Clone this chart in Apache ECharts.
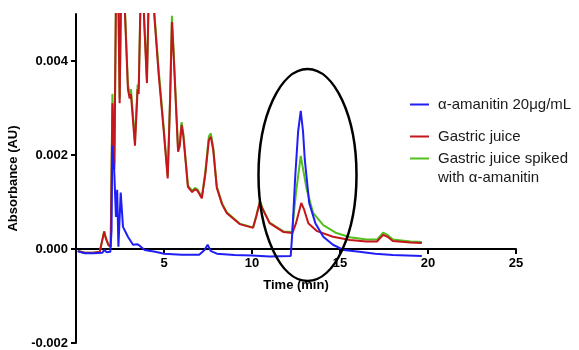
<!DOCTYPE html>
<html>
<head>
<meta charset="utf-8">
<script src="https://cdn.jsdelivr.net/npm/echarts@6/dist/echarts.min.js"></script>
<style>
  html, body { margin: 0; padding: 0; background: #fff; }
  #chart { width: 579px; height: 350px; }
</style>
</head>
<body>
<div id="chart"></div>
<script>
// time (min), absorbance (AU)
const amanitin = [
  [0.1, -0.00005], [0.5, -0.00009], [1.0, -0.00009], [1.5, -0.00008], [1.6, -0.00002],
  [1.75, -0.00007], [1.95, -0.00006], [2.02, 0.0004], [2.06, 0.0022], [2.17, 0.00168],
  [2.27, 0.00068], [2.34, 0.00126], [2.41, 0.00005], [2.54, 0.0012], [2.67, 0.00047],
  [2.95, 0.00026], [3.24, 0.00009], [3.5, 0.0001], [3.65, 0.00006], [3.9, -0.00002],
  [4.5, -0.00006], [5.0, -0.0001], [6.0, -0.00012], [7.0, -0.00012], [7.3, -0.00002],
  [7.48, 0.00009], [7.65, -0.00004], [8.0, -0.0001], [9.0, -0.00013], [10.0, -0.00014],
  [11.0, -0.00016], [12.2, -0.00015], [12.3, 0.0004], [12.45, 0.0015], [12.62, 0.0025],
  [12.77, 0.00294], [12.9, 0.0025], [13.0, 0.0019], [13.25, 0.00098], [13.6, 0.00055],
  [14.05, 0.00026], [14.6, 0.00009], [15.2, -0.00002], [16.1, -0.00006], [17.0, -0.0001],
  [18.0, -0.00013], [19.65, -0.00015]
]

const gastric = [
  [0.1, -0.00004], [0.5, -0.00008], [1.0, -0.00008], [1.35, -0.00006], [1.5, 0.0002],
  [1.6, 0.00037], [1.7, 0.00022], [1.85, 0.00008], [1.97, 0.00005], [2.07, 0.0031],
  [2.18, 0.0017], [2.3, 0.0065], [2.4, 0.0055], [2.48, 0.0031], [2.58, 0.006],
  [2.7, 0.0058], [2.95, 0.0034], [3.05, 0.0032], [3.12, 0.0033], [3.35, 0.0022],
  [3.5, 0.0034], [3.56, 0.0033], [3.72, 0.0062], [3.84, 0.0052], [3.88, 0.00477],
  [4.03, 0.00353], [4.2, 0.0066], [4.35, 0.0066], [4.45, 0.00496], [4.7, 0.0037],
  [4.98, 0.00253], [5.21, 0.0015], [5.35, 0.0032], [5.45, 0.00483], [5.55, 0.0041],
  [5.8, 0.00207], [5.9, 0.0022], [6.0, 0.00264], [6.1, 0.0024], [6.36, 0.00132],
  [6.6, 0.00121], [6.76, 0.00127], [6.9, 0.00124], [7.15, 0.00108], [7.35, 0.0016],
  [7.55, 0.00232], [7.66, 0.00239], [7.8, 0.0021], [8.0, 0.0013], [8.3, 0.00095],
  [8.57, 0.00076], [9.3, 0.00053], [10.06, 0.00045], [10.25, 0.0007], [10.45, 0.001],
  [10.6, 0.00085], [11.0, 0.00055], [11.8, 0.00036], [12.3, 0.00034], [12.5, 0.00055],
  [12.8, 0.00098], [12.95, 0.00085], [13.2, 0.00055], [13.7, 0.00038], [14.6, 0.00026],
  [15.57, 0.00019], [16.5, 0.00016], [17.1, 0.00016], [17.45, 0.0003], [17.7, 0.00026],
  [18.0, 0.00017], [19.0, 0.00014], [19.65, 0.00013]
]

const spiked = [
  [0.1, -0.00004], [0.5, -0.00008], [1.0, -0.00008], [1.35, -0.00006], [1.5, 0.0002],
  [1.6, 0.00038], [1.7, 0.00023], [1.85, 0.00008], [1.97, 0.00005], [2.07, 0.0033],
  [2.18, 0.0018], [2.3, 0.0066], [2.4, 0.0056], [2.48, 0.0032], [2.58, 0.006],
  [2.7, 0.0059], [2.95, 0.0035], [3.05, 0.0033], [3.12, 0.0034], [3.35, 0.0023],
  [3.5, 0.0035], [3.56, 0.0034], [3.72, 0.0063], [3.84, 0.0053], [3.88, 0.00487],
  [4.03, 0.0036], [4.2, 0.0067], [4.35, 0.0067], [4.45, 0.00505], [4.7, 0.0038],
  [4.98, 0.0026], [5.21, 0.00155], [5.35, 0.0033], [5.45, 0.00496], [5.55, 0.0042],
  [5.8, 0.00212], [5.9, 0.0023], [6.0, 0.0027], [6.1, 0.00245], [6.36, 0.00135],
  [6.6, 0.00124], [6.76, 0.0013], [6.9, 0.00127], [7.15, 0.0011], [7.35, 0.00165],
  [7.55, 0.0024], [7.66, 0.00246], [7.8, 0.00215], [8.0, 0.00133], [8.3, 0.00097],
  [8.57, 0.00078], [9.3, 0.00054], [10.06, 0.00046], [10.25, 0.00072], [10.45, 0.00102],
  [10.6, 0.00087], [11.0, 0.00056], [11.8, 0.00037], [12.27, 0.00036], [12.5, 0.0012],
  [12.77, 0.00198], [12.95, 0.0016], [13.1, 0.00128], [13.47, 0.00077], [14.05, 0.00051],
  [14.8, 0.00034], [15.57, 0.00025], [16.5, 0.0002], [17.1, 0.0002], [17.45, 0.00035],
  [17.7, 0.0003], [18.0, 0.0002], [19.0, 0.00016], [19.65, 0.00015]
]

const xTicks = [5, 10, 15, 20, 25]
const yTicks = [-0.002, 0, 0.002, 0.004]

const names = ["α-amanitin 20μg/mL", "Gastric juice", "Gastric juice spiked with α-amanitin"]
const colors = ["#1f1ff5", "#c4161c", "#52bf1f"]

const font = "'Liberation Sans', Arial, sans-serif"

const chart = echarts.init(document.getElementById("chart"), null, { renderer: "canvas" })

const legendBase = {
  orient: "vertical",
  left: 410,
  padding: 0,
  icon: "rect",
  itemWidth: 19,
  itemHeight: 2,
  selectedMode: false,
  textStyle: { fontFamily: font, fontSize: 15, color: "#1a1a1a", lineHeight: 19, padding: [0, 0, 0, 4] },
}

chart.setOption({
  animation: false,
  backgroundColor: "#fff",
  grid: { left: 76, right: 63, top: 14, bottom: 7, outerBoundsMode: "none", containLabel: false },
  legend: [
    { ...legendBase, top: 95, data: [names[0]] },
    { ...legendBase, top: 127, data: [names[1]] },
    {
      ...legendBase,
      top: 130,
      data: [names[2]],
      formatter: () => "\nGastric juice spiked\nwith α-amanitin",
    },
  ],
  xAxis: {
    type: "value",
    min: 0,
    max: 25,
    // axis drawn through y = 0 (94 px above the grid bottom)
    offset: -94,
    name: "Time (min)",
    nameLocation: "middle",
    nameGap: 30,
    nameTextStyle: { fontFamily: font, fontSize: 13, fontWeight: "bold", color: "#000" },
    axisLine: { onZero: false, lineStyle: { color: "#000", width: 2 } },
    axisTick: { customValues: xTicks, length: 5, lineStyle: { color: "#000", width: 2 } },
    axisLabel: {
      customValues: xTicks,
      margin: 8,
      fontFamily: font,
      fontSize: 13,
      fontWeight: "bold",
      color: "#000",
    },
    splitLine: { show: false },
  },
  yAxis: {
    type: "value",
    min: -0.002,
    max: 0.005,
    name: "Absorbance (AU)",
    nameLocation: "middle",
    nameGap: 50,
    nameTextStyle: { fontFamily: font, fontSize: 13, fontWeight: "bold", color: "#000" },
    axisLine: { show: true, onZero: false, lineStyle: { color: "#000", width: 2 } },
    axisTick: { show: true, customValues: yTicks, length: 5, lineStyle: { color: "#000", width: 2 } },
    axisLabel: {
      customValues: yTicks,
      margin: 8,
      fontFamily: font,
      fontSize: 13,
      fontWeight: "bold",
      color: "#000",
      formatter: (v) => v.toFixed(3),
    },
    splitLine: { show: false },
  },
  series: [
    { name: names[2], data: spiked, color: colors[2] },
    { name: names[1], data: gastric, color: colors[1] },
    { name: names[0], data: amanitin, color: colors[0] },
  ].map((s) => ({
    ...s,
    type: "line",
    showSymbol: false,
    clip: true,
    lineStyle: { width: 2, color: s.color },
    itemStyle: { color: s.color },
  })),
  graphic: [
    {
      type: "ellipse",
      z: 100,
      shape: { cx: 307.5, cy: 175, rx: 49, ry: 106 },
      style: { fill: "none", stroke: "#000", lineWidth: 2.5 },
    },
  ],
})
</script>
</body>
</html>
